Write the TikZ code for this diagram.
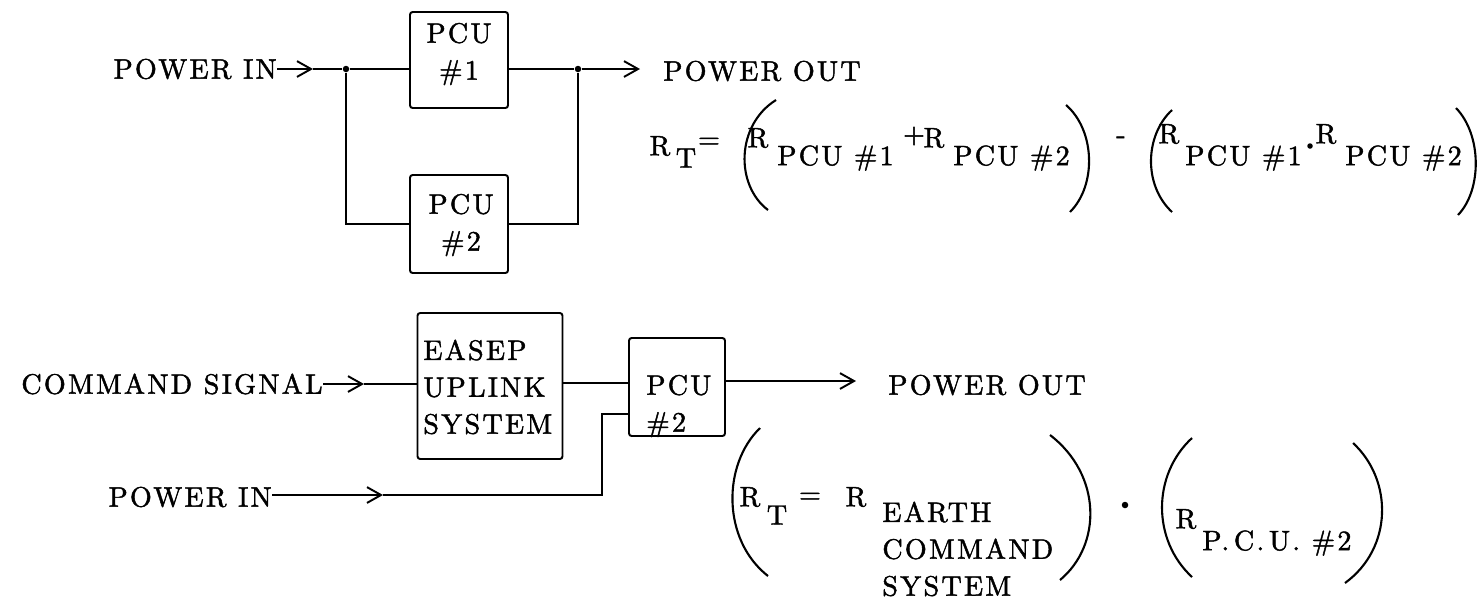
\documentclass[tikz,border=0pt]{standalone}
\usepackage{fontspec}
\setmainfont{lmroman10-regular.otf}[LetterSpace=8,FakeBold=1.6]
\usetikzlibrary{arrows.meta,positioning}
\newcommand\tyfont{\fontsize{16}{21}\selectfont}
\tikzset{
  unit/.style={draw,line width=1.1pt,rounded corners=1.5pt,inner sep=0pt},
  tag/.style={inner sep=0pt,font=\tyfont},
  wire/.style={line width=1.1pt},
  feed/.style={wire,-{Straight Barb[length=8pt,width=9pt]}},
  junc/.style={circle,fill,inner sep=0pt,minimum size=0.13cm},
  paren/.style={line width=1.2pt}
}

\begin{document}
\begin{tikzpicture}[x=0.02cm,y=-0.02cm]
  \useasboundingbox (0,0) rectangle (1480,600);

  % two units in parallel
  \node[tag,anchor=east] (pin1) at (277,69) {POWER IN};
  \node[junc] (j1) at (346,69) {};
  \node[junc] (j2) at (578,69) {};
  \node[unit,minimum width=1.96cm,minimum height=1.92cm] (p1) at (459,60) {};
  \node[tag,align=center] (p1t) at (459,54) {PCU\\\#1};
  \node[unit,minimum width=1.96cm,minimum height=1.96cm] (p2) at (459,224) {};
  \node[tag,align=center] (p2t) at (461,225) {PCU\\\#2};
  \node[tag,anchor=west] (pout1) at (663,71) {POWER OUT};
  \coordinate (a1) at (313,69);
  \coordinate (a2) at (640,69);
  \draw[feed] (pin1.east) -- (a1);
  \draw[wire] (a1) -- (j1) -- (j1 -| p1.west);
  \draw[wire] (p1.east |- j2) -- (j2);
  \draw[feed] (j2) -- (a2);
  \draw[wire] (j1) |- (p2.west);
  \draw[wire] (p2.east) -| (j2);

  % R_T for the parallel pair
  \node[tag] (r0) at (660,146) {R};
  \node[tag] (s0) at (686,158) {T};
  \node[tag] (eq0) at (709,143) {=};
  \node[tag] (r1) at (758,138) {R};
  \node[tag,anchor=west] (s1) at (777,158) {PCU \#1};
  \node[tag] (plus) at (914,136) {+};
  \node[tag] (r2) at (934,138) {R};
  \node[tag,anchor=west] (s2) at (953,158) {PCU \#2};
  \node[tag] (minus) at (1121,140) {-};
  \node[tag] (r3) at (1169,134) {R};
  \node[tag,anchor=west] (s3) at (1185,158) {PCU \#1};
  \node[junc,minimum size=0.11cm] (dot1) at (1310,146) {};
  \node[tag] (r4) at (1326,134) {R};
  \node[tag,anchor=west] (s4) at (1345,158) {PCU \#2};
  \draw[paren] (776,100) .. controls (736,125) and (735,185) .. (768,210);
  \draw[paren] (1066,105) .. controls (1095,130) and (1097,185) .. (1070,212);
  \draw[paren] (1172,110) .. controls (1145,135) and (1143,185) .. (1172,212);
  \draw[paren] (1456,108) .. controls (1482,135) and (1482,190) .. (1458,215);

  % units in series
  \node[tag,anchor=east] (cmd) at (323,384) {COMMAND SIGNAL};
  \node[unit,minimum width=2.9cm,minimum height=2.92cm] (eus) at (490,386) {};
  \node[tag,align=left,anchor=west] (eust) at (423,387) {EASEP\\UPLINK\\SYSTEM};
  \node[unit,minimum width=1.92cm,minimum height=1.96cm] (pc) at (677,387) {};
  \node[tag,align=left,anchor=west] (pct) at (646,406) {PCU\\\#2};
  \node[tag,anchor=east] (pin2) at (272,497) {POWER IN};
  \node[tag,anchor=west] (pout2) at (888,385) {POWER OUT};
  \coordinate (a3) at (364,384);
  \coordinate (a4) at (856,381);
  \coordinate (a5) at (383,495);
  \coordinate (k) at (602,414);
  \draw[feed] (cmd.east) -- (a3);
  \draw[wire] (a3) -- (a3 -| eus.west);
  \draw[wire] (eus.east |- 0,383) -- (pc.west |- 0,383);
  \draw[feed] (pc.east |- a4) -- (a4);
  \draw[feed] (pin2.east |- a5) -- (a5);
  \draw[wire] (a5) -| (k) -- (k -| pc.west);

  % R_T for the series pair
  \node[tag] (r5) at (750,497) {R};
  \node[tag] (s5) at (777,515) {T};
  \node[tag] (eq1) at (810,498) {=};
  \node[tag] (r6) at (856,497) {R};
  \node[tag,align=left,anchor=west] (s6) at (882,549) {EARTH\\COMMAND\\SYSTEM};
  \node[junc] (dot2) at (1125,505) {};
  \node[tag] (r7) at (1186,519) {R};
  \node[tag,anchor=west] (s7) at (1202,543) {P.\,C.\,U.\ \#2};
  \draw[paren] (760,428) .. controls (722,465) and (722,540) .. (768,576);
  \draw[paren] (1050,435) .. controls (1102,475) and (1102,545) .. (1060,580);
  \draw[paren] (1192,438) .. controls (1152,475) and (1152,540) .. (1192,577);
  \draw[paren] (1353,443) .. controls (1393,480) and (1393,548) .. (1345,583);
\end{tikzpicture}
\end{document}
